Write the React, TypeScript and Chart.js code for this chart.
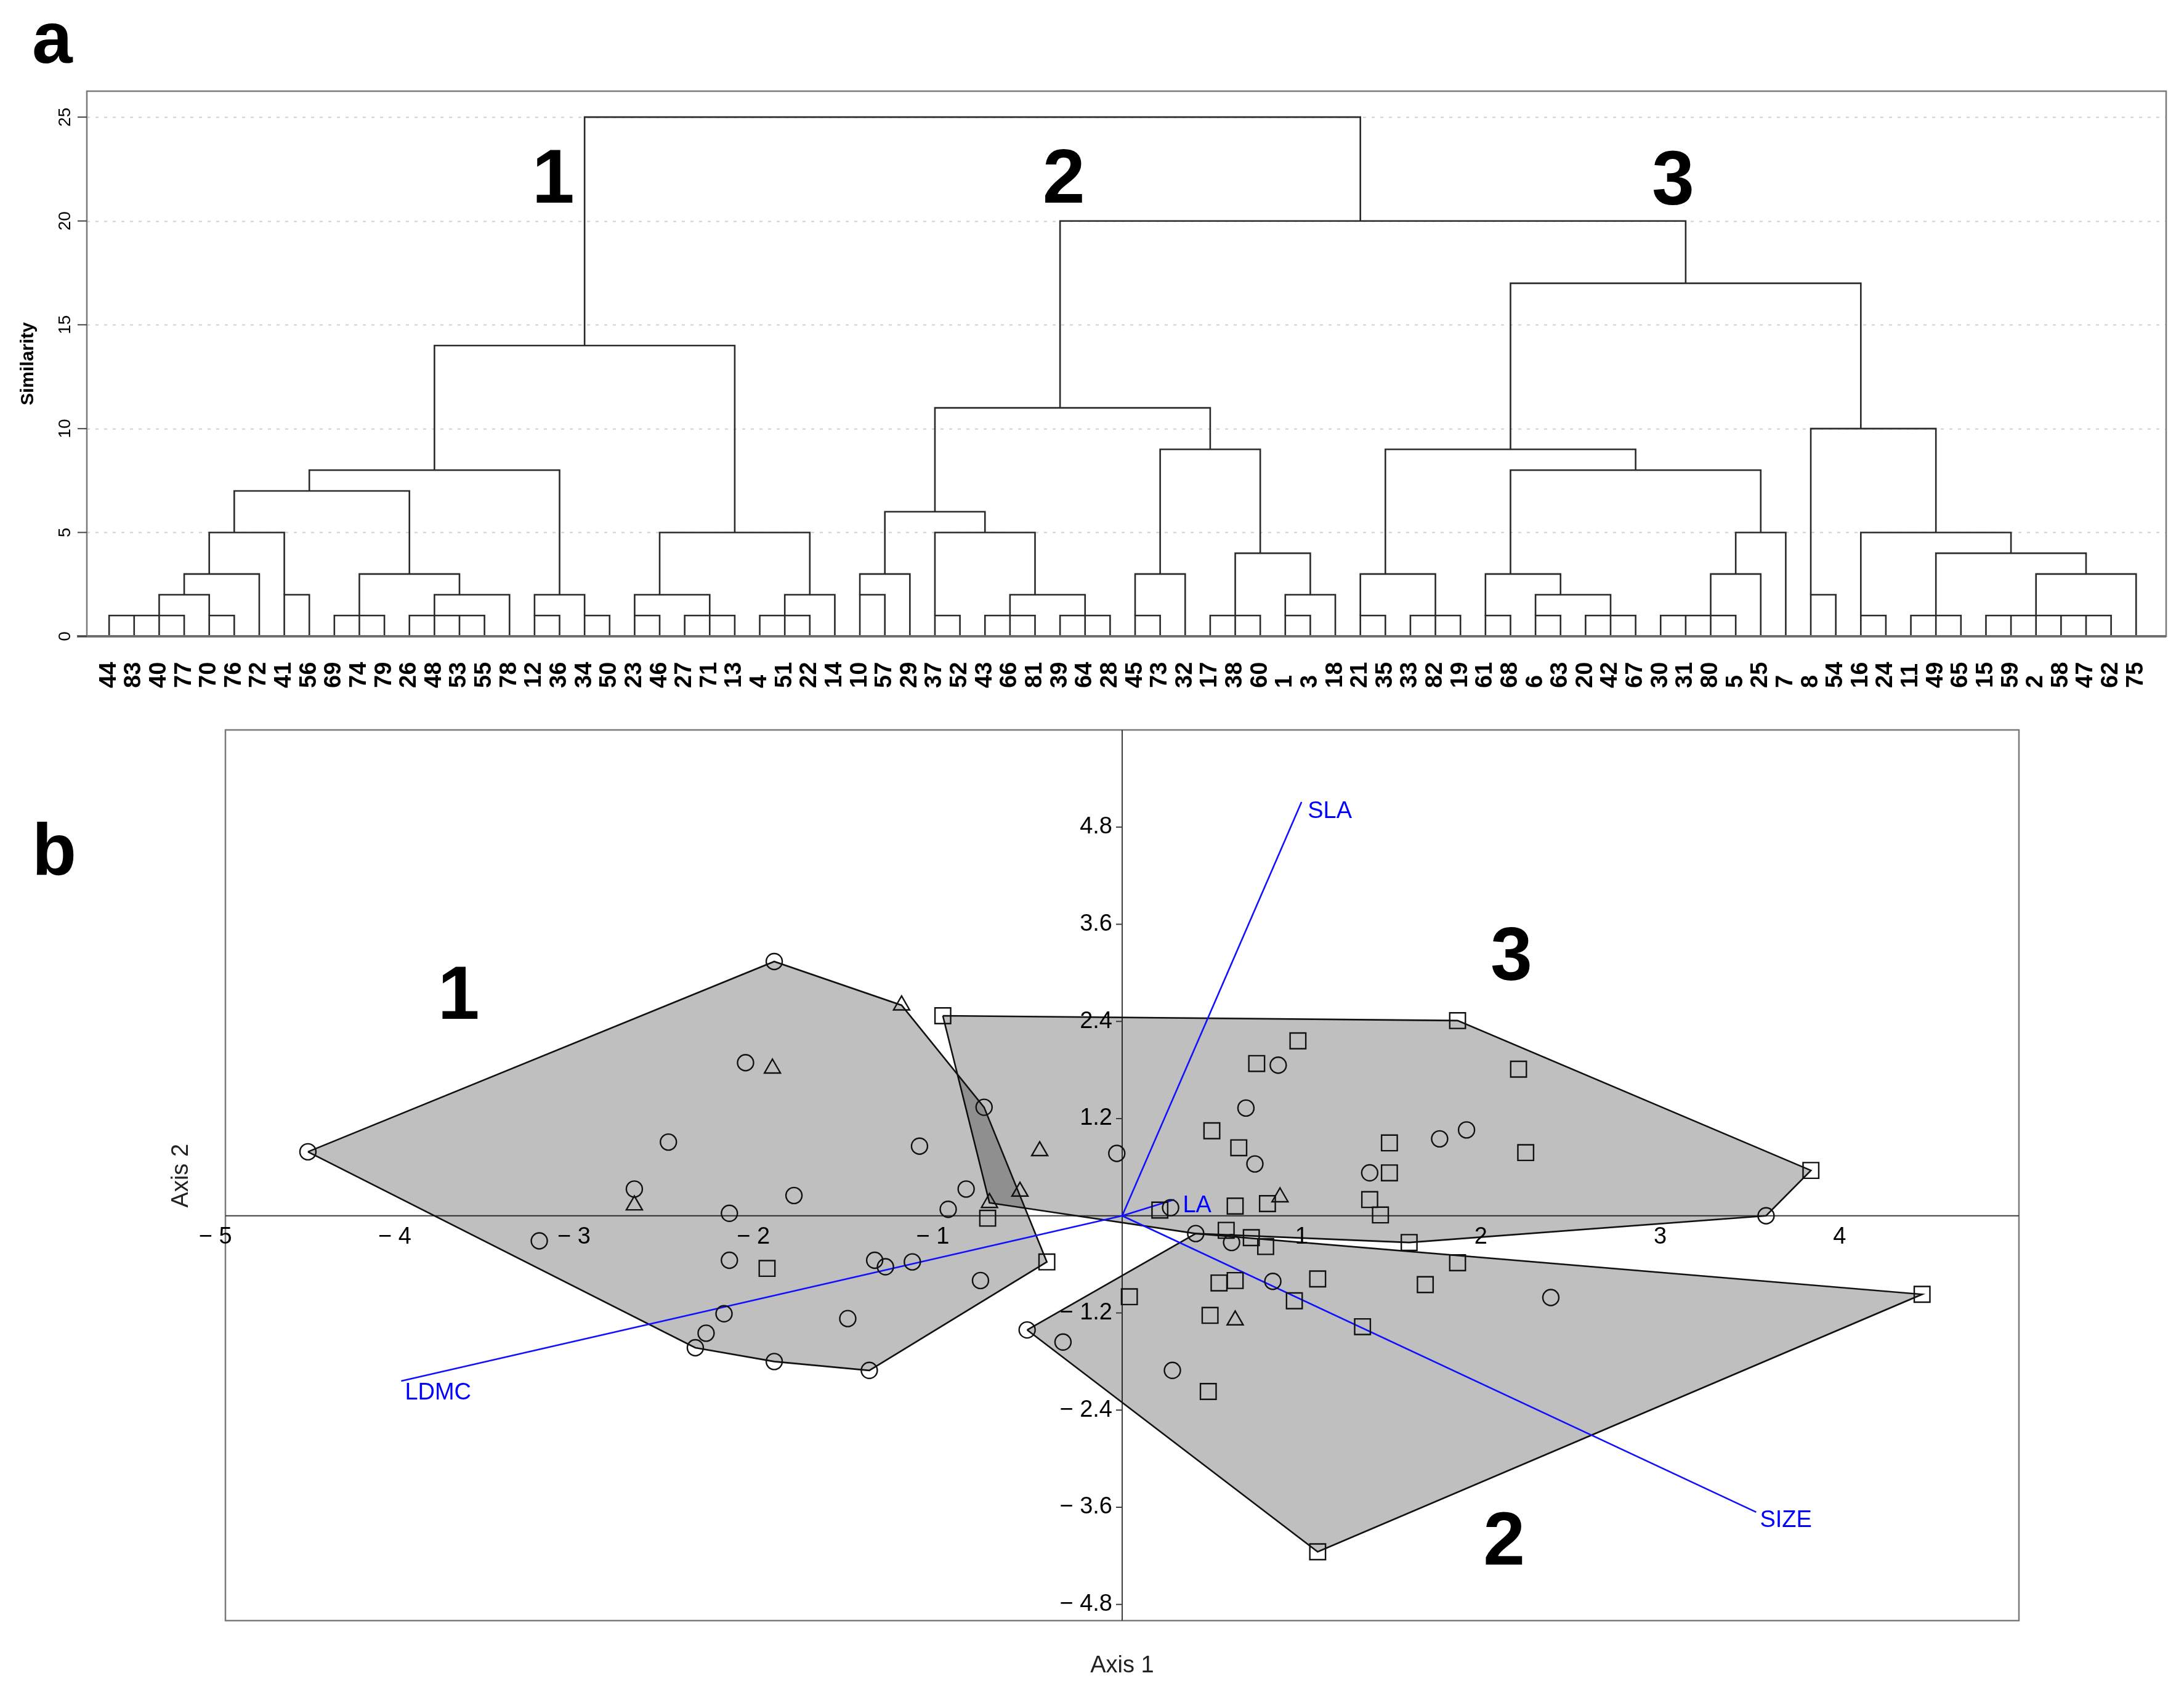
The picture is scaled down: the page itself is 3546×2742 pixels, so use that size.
import React, { useEffect, useRef } from 'react';
import { Chart, registerables } from 'chart.js';

Chart.register(...registerables);

const FONT = '"Liberation Sans", Arial, Helvetica, sans-serif';
const W = 3546;
const H = 2742;
const TOP_H = 1160;
const BOT_H = H - TOP_H;

// ---------- Panel a: dendrogram ----------
const leafLabels = [
  '44', '83', '40', '77', '70', '76', '72', '41', '56', '69', '74', '79', '26', '48', '53', '55', '78', '12', '36', '34',
  '50', '23', '46', '27', '71', '13', '4', '51', '22', '14', '10', '57', '29', '37', '52', '43', '66', '81', '39', '64',
  '28', '45', '73', '32', '17', '38', '60', '1', '3', '18', '21', '35', '33', '82', '19', '61', '68', '6', '63', '20',
  '42', '67', '30', '31', '80', '5', '25', '7', '8', '54', '16', '24', '11', '49', '65', '15', '59', '2', '58', '47',
  '62', '75',
];

const similarityTicks = [0, 5, 10, 15, 20, 25];

// each link: [height, childPos1, childHeight1, childPos2, childHeight2, ...]
const dendroLinks: number[][] = [
  [1, 0, 0, 1, 0, 2, 0, 3, 0],
  [1, 4, 0, 5, 0],
  [2, 2, 1, 4, 1],
  [3, 3, 2, 6, 0],
  [2, 7, 0, 8, 0],
  [5, 4, 3, 7, 2],
  [1, 9, 0, 10, 0, 11, 0],
  [1, 12, 0, 13, 0, 14, 0, 15, 0],
  [2, 13, 1, 16, 0],
  [3, 10, 1, 14, 2],
  [7, 5, 5, 12, 3],
  [1, 17, 0, 18, 0],
  [1, 19, 0, 20, 0],
  [2, 17, 1, 19, 1],
  [8, 8, 7, 18, 2],
  [1, 21, 0, 22, 0],
  [1, 23, 0, 24, 0, 25, 0],
  [2, 21, 1, 24, 1],
  [1, 26, 0, 27, 0, 28, 0],
  [2, 27, 1, 29, 0],
  [5, 22, 2, 28, 2],
  [14, 13, 8, 25, 5],
  [2, 30, 0, 31, 0],
  [3, 30, 2, 32, 0],
  [1, 33, 0, 34, 0],
  [1, 35, 0, 36, 0, 37, 0],
  [1, 38, 0, 39, 0, 40, 0],
  [2, 36, 1, 39, 1],
  [5, 33, 1, 37, 2],
  [6, 31, 3, 35, 5],
  [1, 41, 0, 42, 0],
  [3, 41, 1, 43, 0],
  [1, 44, 0, 45, 0, 46, 0],
  [1, 47, 0, 48, 0],
  [2, 47, 1, 49, 0],
  [4, 45, 1, 48, 2],
  [9, 42, 3, 46, 4],
  [11, 33, 6, 44, 9],
  [1, 50, 0, 51, 0],
  [1, 52, 0, 53, 0, 54, 0],
  [3, 50, 1, 53, 1],
  [1, 55, 0, 56, 0],
  [1, 57, 0, 58, 0],
  [1, 59, 0, 60, 0, 61, 0],
  [2, 57, 1, 60, 1],
  [3, 55, 1, 58, 2],
  [1, 62, 0, 63, 0, 64, 0, 65, 0],
  [3, 64, 1, 66, 0],
  [5, 65, 3, 67, 0],
  [8, 56, 3, 66, 5],
  [9, 51, 3, 61, 8],
  [2, 68, 0, 69, 0],
  [1, 70, 0, 71, 0],
  [1, 72, 0, 73, 0, 74, 0],
  [1, 75, 0, 76, 0, 77, 0, 78, 0, 79, 0, 80, 0],
  [3, 77, 1, 81, 0],
  [4, 73, 1, 79, 3],
  [5, 70, 1, 76, 4],
  [10, 68, 2, 73, 5],
  [17, 56, 9, 70, 10],
  [20, 38, 11, 63, 17],
  [25, 19, 14, 50, 20],
];

const dendroGroupNames = ['1', '2', '3'];
const dendroGroupPos = [
  [17.75, 21.9],
  [38.15, 21.9],
  [62.5, 21.8],
];

// ---------- Panel b: PCA biplot ----------
const circlePts = [
  [-4.54, 0.79], [-1.94, 3.14], [-2.10, 1.89], [-2.53, 0.91], [-2.72, 0.33], [-3.25, -0.31], [-1.83, 0.25],
  [-2.19, 0.03], [-2.19, -0.55], [-1.13, 0.86], [-0.77, 1.34], [-0.87, 0.33], [-0.97, 0.08], [-1.38, -0.55],
  [-1.32, -0.63], [-1.17, -0.57], [-0.79, -0.80], [-1.53, -1.27], [-2.22, -1.21], [-2.32, -1.45], [-2.38, -1.63],
  [-1.94, -1.80], [-1.41, -1.91], [-0.53, -1.41], [-0.33, -1.56], [-0.03, 0.77],
  [0.87, 1.86], [0.69, 1.33], [0.74, 0.64], [1.77, 0.95], [1.92, 1.06], [1.38, 0.53], [0.27, 0.10],
  [3.59, 0.0], [0.41, -0.22], [0.61, -0.33], [0.84, -0.81], [2.39, -1.01], [0.28, -1.91],
];

const trianglePts = [
  [-1.23, 2.60], [-1.95, 1.82], [-2.72, 0.13], [-0.46, 0.80], [-0.57, 0.30], [-0.74, 0.16], [0.88, 0.23], [0.63, -1.29],
];

const squarePts = [
  [-1.00, 2.47], [-0.75, -0.03], [-1.98, -0.65], [-0.42, -0.57], [0.04, -1.00], [1.87, 2.41], [0.98, 2.16],
  [0.75, 1.88], [2.21, 1.81], [0.50, 1.05], [0.65, 0.84], [1.49, 0.90], [2.25, 0.78], [1.49, 0.53], [3.84, 0.56],
  [0.63, 0.12], [0.81, 0.15], [1.38, 0.20], [1.44, 0.01], [0.21, 0.07], [0.58, -0.18], [0.72, -0.27], [0.80, -0.38],
  [1.60, -0.33], [1.87, -0.58], [1.69, -0.85], [0.54, -0.83], [0.63, -0.80], [1.09, -0.78], [0.96, -1.05],
  [0.49, -1.23], [1.34, -1.37], [0.48, -2.17], [4.46, -0.97], [1.09, -4.15],
];

const hullGroup1 = [
  [-4.54, 0.79], [-1.94, 3.14], [-1.23, 2.60], [-0.77, 1.34], [-0.42, -0.57], [-1.41, -1.91], [-1.94, -1.80],
  [-2.38, -1.63], [-4.54, 0.79],
];
const hullGroup3 = [
  [-1.00, 2.47], [1.87, 2.41], [3.84, 0.56], [3.59, 0.0], [1.60, -0.33], [0.41, -0.22], [-0.74, 0.16], [-1.00, 2.47],
];
const hullGroup2 = [
  [-0.53, -1.41], [0.41, -0.22], [4.46, -0.97], [1.09, -4.15], [-0.53, -1.41],
];

const vectorNames = ['SLA', 'LDMC', 'SIZE', 'LA'];
const vectorEnds = [
  [1.0, 5.11],
  [-4.02, -2.04],
  [3.535, -3.66],
  [0.29, 0.2],
];

const axis1Ticks = [-5, -4, -3, -2, -1, 1, 2, 3, 4];
const axis2Ticks = [4.8, 3.6, 2.4, 1.2, -1.2, -2.4, -3.6, -4.8];

const biplotGroupNames = ['1', '3', '2'];
const biplotGroupPos = [
  [-3.70, 2.69],
  [2.17, 3.17],
  [2.13, -4.05],
];

const toXY = (arr: number[][]) => arr.map(([x, y]) => ({ x, y }));

function linkPath(link: number[]) {
  const h = link[0];
  const kids: number[][] = [];
  for (let i = 1; i < link.length; i += 2) kids.push([link[i], link[i + 1]]);
  kids.sort((a, b) => a[0] - b[0]);
  const pts: { x: number; y: number }[] = [];
  kids.forEach(([x, f], i) => {
    if (i === 0) {
      pts.push({ x, y: f }, { x, y: h });
    } else if (i === kids.length - 1) {
      pts.push({ x, y: h }, { x, y: f });
    } else {
      pts.push({ x, y: h }, { x, y: f }, { x, y: h });
    }
  });
  return pts;
}

const fmtMinus = (v: number, digits: number) => {
  const s = Math.abs(v).toFixed(digits);
  return v < 0 ? '\u2212 ' + s : s;
};

const DENDRO_BOTTOM = 1033;
const BIPLOT_TOP = 1185;
const BIPLOT_BOTTOM = 2631;

const dendroDecor = {
  id: 'dendroDecor',
  beforeDatasetsDraw(chart: any) {
    const { ctx, chartArea: a, scales } = chart;
    const y = scales.y;
    ctx.save();
    ctx.strokeStyle = '#cfcfcf';
    ctx.lineWidth = 2;
    ctx.setLineDash([5, 9]);
    similarityTicks.forEach((t) => {
      if (t === 0) return;
      const py = Math.round(y.getPixelForValue(t)) + 0.5;
      ctx.beginPath();
      ctx.moveTo(a.left, py);
      ctx.lineTo(a.right, py);
      ctx.stroke();
    });
    ctx.restore();
  },
  afterDatasetsDraw(chart: any) {
    const { ctx, chartArea: a, scales } = chart;
    const x = scales.x;
    const y = scales.y;
    ctx.save();
    // frame
    ctx.strokeStyle = '#7a7a7a';
    ctx.lineWidth = 2.5;
    ctx.strokeRect(a.left, a.top, a.right - a.left, a.bottom - a.top);
    // base line
    ctx.strokeStyle = '#6e6e6e';
    ctx.lineWidth = 4;
    ctx.beginPath();
    ctx.moveTo(a.left - 16, y.getPixelForValue(0));
    ctx.lineTo(a.right, y.getPixelForValue(0));
    ctx.stroke();
    // y ticks
    ctx.strokeStyle = '#444';
    ctx.lineWidth = 2;
    ctx.fillStyle = '#000';
    ctx.font = `28px ${FONT}`;
    similarityTicks.forEach((t) => {
      const py = y.getPixelForValue(t);
      ctx.beginPath();
      ctx.moveTo(a.left - 15, py);
      ctx.lineTo(a.left, py);
      ctx.stroke();
      ctx.save();
      ctx.translate(a.left - 35, py);
      ctx.rotate(-Math.PI / 2);
      ctx.textAlign = 'center';
      ctx.textBaseline = 'middle';
      ctx.fillText(String(t), 0, 0);
      ctx.restore();
    });
    // axis title
    ctx.save();
    ctx.font = `bold 30px ${FONT}`;
    ctx.translate(46, (a.top + a.bottom) / 2);
    ctx.rotate(-Math.PI / 2);
    ctx.textAlign = 'center';
    ctx.textBaseline = 'middle';
    ctx.fillText('Similarity', 0, 0);
    ctx.restore();
    // leaf labels
    ctx.font = `bold 38px ${FONT}`;
    leafLabels.forEach((lab, i) => {
      const px = x.getPixelForValue(i);
      ctx.save();
      ctx.translate(px, a.bottom + 84);
      ctx.rotate(-Math.PI / 2);
      ctx.textAlign = 'left';
      ctx.textBaseline = 'middle';
      ctx.fillText(lab, 0, 0);
      ctx.restore();
    });
    // group numbers
    ctx.font = `bold 124px ${FONT}`;
    ctx.textAlign = 'center';
    ctx.textBaseline = 'middle';
    dendroGroupNames.forEach((n, i) => {
      ctx.fillText(n, x.getPixelForValue(dendroGroupPos[i][0]), y.getPixelForValue(dendroGroupPos[i][1]));
    });
    // panel letter
    ctx.font = `bold 118px ${FONT}`;
    ctx.textAlign = 'left';
    ctx.textBaseline = 'alphabetic';
    ctx.fillText('a', 52, 102);
    ctx.restore();
  },
};

const biplotDecor = {
  id: 'biplotDecor',
  beforeDatasetsDraw(chart: any) {
    const { ctx, chartArea: a, scales } = chart;
    const x = scales.x;
    const y = scales.y;
    ctx.save();
    ctx.strokeStyle = '#7a7a7a';
    ctx.lineWidth = 2.5;
    ctx.strokeRect(a.left, a.top, a.right - a.left, a.bottom - a.top);
    ctx.strokeStyle = '#3c3c3c';
    ctx.lineWidth = 2;
    const y0 = y.getPixelForValue(0);
    const x0 = x.getPixelForValue(0);
    ctx.beginPath();
    ctx.moveTo(a.left, y0);
    ctx.lineTo(a.right, y0);
    ctx.moveTo(x0, a.top);
    ctx.lineTo(x0, a.bottom);
    ctx.stroke();
    ctx.restore();
  },
  afterDatasetsDraw(chart: any) {
    const { ctx, chartArea: a, scales } = chart;
    const x = scales.x;
    const y = scales.y;
    const y0 = y.getPixelForValue(0);
    const x0 = x.getPixelForValue(0);
    ctx.save();
    ctx.fillStyle = '#000';
    ctx.strokeStyle = '#3c3c3c';
    ctx.lineWidth = 2;
    ctx.font = `38px ${FONT}`;
    // y ticks
    axis2Ticks.forEach((t) => {
      const py = y.getPixelForValue(t);
      ctx.beginPath();
      ctx.moveTo(x0 - 10, py);
      ctx.lineTo(x0, py);
      ctx.stroke();
      ctx.textAlign = 'right';
      ctx.textBaseline = 'middle';
      ctx.fillText(fmtMinus(t, 1), x0 - 16, py);
    });
    // x ticks
    axis1Ticks.forEach((t) => {
      const px = x.getPixelForValue(t);
      const digit = String(Math.abs(t));
      const dw = ctx.measureText(digit).width;
      ctx.textAlign = 'right';
      ctx.textBaseline = 'top';
      ctx.fillText(fmtMinus(t, 0), px + dw / 2, y0 + 16);
    });
    // axis titles
    ctx.textAlign = 'center';
    ctx.textBaseline = 'middle';
    ctx.fillStyle = '#222';
    ctx.fillText('Axis 1', (a.left + a.right) / 2, a.bottom + 74);
    ctx.save();
    ctx.translate(a.left - 71, y0 - 65);
    ctx.rotate(-Math.PI / 2);
    ctx.fillText('Axis 2', 0, 0);
    ctx.restore();
    // vector labels
    ctx.fillStyle = '#0000ff';
    ctx.textAlign = 'left';
    ctx.textBaseline = 'middle';
    const offs = [
      [10, 16],
      [6, 20],
      [6, 14],
      [14, 10],
    ];
    vectorNames.forEach((n, i) => {
      const px = x.getPixelForValue(vectorEnds[i][0]);
      const py = y.getPixelForValue(vectorEnds[i][1]);
      ctx.fillText(n, px + offs[i][0], py + offs[i][1]);
    });
    // group numbers
    ctx.fillStyle = '#000';
    ctx.font = `bold 122px ${FONT}`;
    ctx.textAlign = 'center';
    ctx.textBaseline = 'middle';
    biplotGroupNames.forEach((n, i) => {
      ctx.fillText(n, x.getPixelForValue(biplotGroupPos[i][0]), y.getPixelForValue(biplotGroupPos[i][1]));
    });
    // panel letter
    ctx.font = `bold 118px ${FONT}`;
    ctx.textAlign = 'left';
    ctx.textBaseline = 'alphabetic';
    ctx.fillText('b', 52, 1420 - TOP_H);
    ctx.restore();
  },
};

export default function App() {
  const refA = useRef<HTMLCanvasElement | null>(null);
  const refB = useRef<HTMLCanvasElement | null>(null);

  useEffect(() => {
    document.body.style.margin = '0';
    const charts: Chart[] = [];
    if (refA.current) {
      charts.push(
        new Chart(refA.current, {
          type: 'scatter',
          data: {
            datasets: dendroLinks.map((l) => ({
              data: linkPath(l),
              showLine: true,
              borderColor: '#2a2a2a',
              borderWidth: 2.6,
              borderJoinStyle: 'miter',
              borderCapStyle: 'butt',
              pointRadius: 0,
              pointHoverRadius: 0,
              fill: false,
              tension: 0,
            })),
          } as any,
          options: {
            animation: false,
            responsive: false,
            devicePixelRatio: 1,
            events: [],
            layout: { padding: { left: 141, right: 29, top: 148, bottom: TOP_H - DENDRO_BOTTOM } },
            plugins: { legend: { display: false }, tooltip: { enabled: false } },
            scales: {
              x: { type: 'linear', min: -0.89, max: 82.2, display: false },
              y: { type: 'linear', min: 0, max: 26.25, display: false },
            },
          } as any,
          plugins: [dendroDecor],
        })
      );
    }
    if (refB.current) {
      const hullDs = (pts: number[][]) => ({
        data: toXY(pts),
        showLine: true,
        fill: 'shape',
        backgroundColor: 'rgba(0,0,0,0.25)',
        borderColor: '#111',
        borderWidth: 2.6,
        pointRadius: 0,
        tension: 0,
        order: 3,
      });
      const vecDs = vectorEnds.map((v) => ({
        data: [
          { x: 0, y: 0 },
          { x: v[0], y: v[1] },
        ],
        showLine: true,
        fill: false,
        borderColor: '#1010ff',
        borderWidth: 2.6,
        pointRadius: 0,
        order: 2,
      }));
      charts.push(
        new Chart(refB.current, {
          type: 'scatter',
          data: {
            datasets: [
              hullDs(hullGroup1),
              hullDs(hullGroup3),
              hullDs(hullGroup2),
              ...vecDs,
              {
                data: toXY(circlePts),
                pointStyle: 'circle',
                pointRadius: 13,
                borderColor: '#111',
                borderWidth: 2.4,
                backgroundColor: 'rgba(0,0,0,0)',
                order: 1,
              },
              {
                data: toXY(trianglePts),
                pointStyle: 'triangle',
                pointRadius: 15,
                borderColor: '#111',
                borderWidth: 2.4,
                backgroundColor: 'rgba(0,0,0,0)',
                order: 1,
              },
              {
                data: toXY(squarePts),
                pointStyle: 'rect',
                pointRadius: 18,
                borderColor: '#111',
                borderWidth: 2.4,
                backgroundColor: 'rgba(0,0,0,0)',
                order: 1,
              },
            ],
          } as any,
          options: {
            animation: false,
            responsive: false,
            devicePixelRatio: 1,
            events: [],
            layout: {
              padding: { left: 366, right: W - 3278, top: BIPLOT_TOP - TOP_H, bottom: H - BIPLOT_BOTTOM },
            },
            plugins: { legend: { display: false }, tooltip: { enabled: false } },
            scales: {
              x: { type: 'linear', min: -5, max: 5, display: false },
              y: { type: 'linear', min: -5, max: 6, display: false },
            },
          } as any,
          plugins: [biplotDecor],
        })
      );
    }
    return () => {
      charts.forEach((c) => c.destroy());
    };
  }, []);

  return (
    <div style={{ position: 'absolute', left: 0, top: 0, width: W, height: H, background: '#fff' }}>
      <canvas
        ref={refA}
        width={W}
        height={TOP_H}
        style={{ position: 'absolute', left: 0, top: 0, width: W, height: TOP_H }}
      />
      <canvas
        ref={refB}
        width={W}
        height={BOT_H}
        style={{ position: 'absolute', left: 0, top: TOP_H, width: W, height: BOT_H }}
      />
    </div>
  );
}
